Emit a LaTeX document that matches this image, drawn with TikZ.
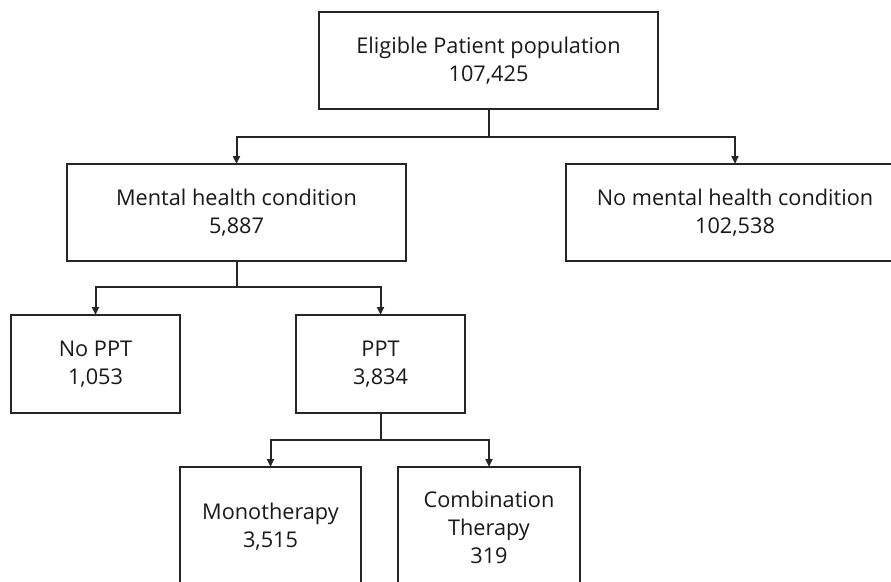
\documentclass[tikz,border=0pt]{standalone}
\usepackage{fontspec}
\setmainfont{Open Sans}
\usetikzlibrary{arrows.meta}
\begin{document}
\begin{tikzpicture}[x=1pt,y=-1pt,
  box/.style={draw=black!85, line width=2pt, fill=white, inner sep=0pt, outer sep=0pt,
    align=center, font=\fontsize{21.7}{28}\selectfont, text=black!90},
  link/.style={draw=black!85, line width=2pt},
  arr/.style={link, -{Triangle[length=8pt,width=7pt]}}]
\useasboundingbox[fill=white] (0,0) rectangle (891,581);
\node[box, minimum width=339pt, minimum height=97pt] (top) at (488.5,60.5) {Eligible Patient population\\107,425};
\node[box, minimum width=339pt, minimum height=97pt] (mental) at (236.5,212.5) {Mental health condition\\5,887};
\node[box, minimum width=338pt, minimum height=97pt] (nomental) at (735,212.5) {No mental health condition\\102,538};
\node[box, minimum width=169pt, minimum height=98pt] (noppt) at (95.5,364) {No PPT\\1,053};
\node[box, minimum width=169pt, minimum height=98pt] (ppt) at (380.5,364) {PPT\\3,834};
\node[box, minimum width=181pt, minimum height=120pt] (mono) at (270.5,527) {Monotherapy\\3,515};
\node[box, minimum width=182pt, minimum height=120pt] (combo) at (489,527) {Combination\\Therapy\\319};
\coordinate (j1) at (top.south |- 0,137);
\coordinate (j2) at (mental.south |- 0,287);
\coordinate (j3) at (ppt.south |- 0,440);
\draw[link] (top.south) -- (j1);
\draw[arr] (j1) -| (mental.north);
\draw[arr] (j1) -| (nomental.north);
\draw[link] (mental.south) -- (j2);
\draw[arr] (j2) -| (noppt.north);
\draw[arr] (j2) -| (ppt.north);
\draw[link] (ppt.south) -- (j3);
\draw[arr] (j3) -| (mono.north);
\draw[arr] (j3) -| (combo.north);
\end{tikzpicture}
\end{document}
